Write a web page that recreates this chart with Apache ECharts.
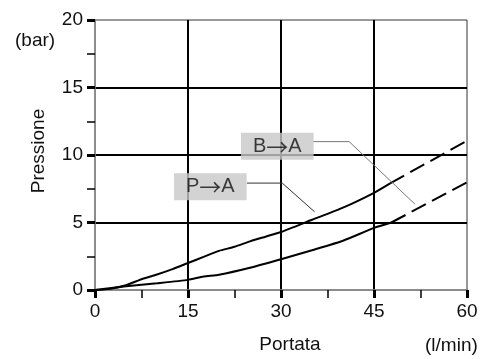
<!DOCTYPE html>
<html>
<head>
<meta charset="utf-8">
<script src="https://cdn.jsdelivr.net/npm/echarts@6/dist/echarts.min.js"></script>
<style>
  html, body { margin: 0; padding: 0; background: #fff; }
  #chart { width: 493px; height: 359px; }
</style>
</head>
<body>
<div id="chart"></div>
<script>
// curva P→A (tratto continuo + tratto tratteggiato)
const paFlow = [0, 2.5, 5, 7.5, 10, 12.5, 15, 17.5, 20, 22.5, 25, 27.5, 30, 35, 40, 45, 47.6];
const paPressure = [0, 0.1, 0.35, 0.8, 1.15, 1.55, 2.0, 2.45, 2.9, 3.2, 3.6, 3.95, 4.3, 5.2, 6.1, 7.2, 7.9];
const paDashFlow = [47.6, 60];
const paDashPressure = [7.9, 11.05];

// curva B→A
const baFlow = [0, 5, 10, 15, 17.5, 20, 25, 30, 35, 40, 45, 47.8];
const baPressure = [0, 0.28, 0.5, 0.75, 1.0, 1.13, 1.65, 2.28, 2.95, 3.65, 4.6, 5.0];
const baDashFlow = [47.8, 60];
const baDashPressure = [5.0, 7.97];

// etichette e linee di richiamo (coordinate nei valori degli assi)
const labelNames = ['P→A', 'B→A'];
const labelFlow = [18.6, 29.4];
const labelPressure = [7.65, 10.65];
const paLeaderFlow = [24.5, 30.2, 35.4];
const paLeaderPressure = [7.92, 7.92, 5.8];
const baLeaderFlow = [35.2, 41.0, 51.6];
const baLeaderPressure = [10.99, 10.99, 6.36];

const zip = (xs, ys) => xs.map((x, i) => [x, ys[i]]);

const chart = echarts.init(document.getElementById('chart'));
const font = 'Liberation Sans, Arial, sans-serif';

const lineStyleSolid = { color: '#000', width: 2 };
const lineStyleDash = { color: '#000', width: 2, type: [16, 7] };

chart.setOption({
  animation: false,
  backgroundColor: '#fff',
  textStyle: { fontFamily: font },
  grid: {
    left: 95, right: 26, top: 20, bottom: 64,
    show: true, borderColor: '#333', borderWidth: 1
  },
  xAxis: {
    type: 'value',
    min: 0, max: 60, interval: 15,
    name: 'Portata',
    nameLocation: 'middle',
    nameGap: 45,
    nameTextStyle: { fontSize: 19, color: '#111', padding: [0, 0, 0, 18] },
    axisLine: { lineStyle: { color: '#888', width: 1.5 } },
    axisTick: { show: true, inside: false, length: 8, lineStyle: { color: '#000', width: 3 } },
    minorTick: { show: true, splitNumber: 2, length: 8, lineStyle: { color: '#000', width: 1.5 } },
    axisLabel: { fontSize: 19, color: '#111', margin: 12 },
    splitLine: { show: true, showMinLine: false, showMaxLine: false, lineStyle: { color: '#000', width: 2 } }
  },
  yAxis: {
    type: 'value',
    min: 0, max: 20, interval: 5,
    name: 'Pressione',
    nameLocation: 'middle',
    nameGap: 47,
    nameTextStyle: { fontSize: 19, color: '#111', padding: [0, 0, 0, 8] },
    axisLine: { show: true, lineStyle: { color: '#888', width: 1.5 } },
    axisTick: { show: true, inside: false, length: 8, lineStyle: { color: '#000', width: 3 } },
    minorTick: { show: true, splitNumber: 2, length: 8, lineStyle: { color: '#000', width: 1.5 } },
    axisLabel: { fontSize: 19, color: '#111', margin: 12 },
    splitLine: { show: true, showMinLine: false, showMaxLine: false, lineStyle: { color: '#000', width: 2 } }
  },
  graphic: [
    { type: 'text', left: 15, top: 31, style: { text: '(bar)', fontSize: 19, fill: '#111', fontFamily: font } },
    { type: 'text', left: 425, top: 336, style: { text: '(l/min)', fontSize: 19, fill: '#111', fontFamily: font } }
  ],
  series: [
    { type: 'line', data: zip(paFlow, paPressure), showSymbol: false, smooth: 0.2, lineStyle: lineStyleSolid, z: 3 },
    { type: 'line', data: zip(paDashFlow, paDashPressure), showSymbol: false, lineStyle: lineStyleDash, z: 3 },
    { type: 'line', data: zip(baFlow, baPressure), showSymbol: false, smooth: 0.2, lineStyle: lineStyleSolid, z: 3 },
    { type: 'line', data: zip(baDashFlow, baDashPressure), showSymbol: false, lineStyle: lineStyleDash, z: 3 },
    { type: 'line', data: zip(paLeaderFlow, paLeaderPressure), showSymbol: false, lineStyle: { color: '#333', width: 1 }, z: 4 },
    { type: 'line', data: zip(baLeaderFlow, baLeaderPressure), showSymbol: false, lineStyle: { color: '#777', width: 1 }, z: 4 },
    {
      type: 'scatter',
      symbolSize: 1,
      itemStyle: { color: 'rgba(0,0,0,0)' },
      z: 5,
      data: labelNames.map((n, i) => ({ name: n, value: [labelFlow[i], labelPressure[i]] })),
      label: {
        show: true,
        position: 'inside',
        formatter: p => p.name.replace('→', '{a|→}'),
        fontSize: 20,
        color: '#111',
        backgroundColor: '#c8c8c8',
        padding: [3, 12],
        lineHeight: 21,
        rich: {
          a: { fontFamily: 'Noto Sans CJK JP', fontSize: 22, color: '#111', lineHeight: 21 }
        }
      }
    }
  ]
});
</script>
</body>
</html>
